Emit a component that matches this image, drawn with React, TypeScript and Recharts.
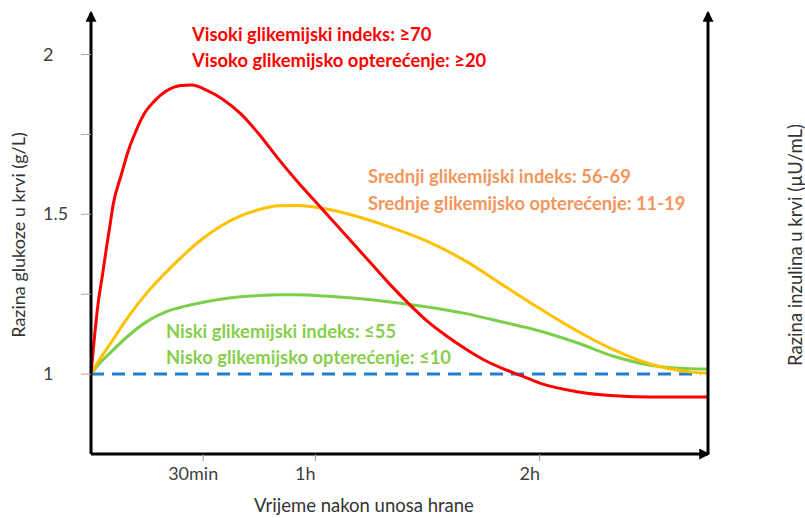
import React from 'react';
import { LineChart, Line, XAxis, YAxis, ReferenceLine } from 'recharts';

// minutes after the meal / blood glucose (g/L)
const highTimes = [0, 1, 2, 3, 4, 5, 6, 8, 10, 12, 14, 17, 20, 24, 27, 31, 35, 40, 45, 50, 55, 60, 65, 70, 75, 80, 85, 90, 95, 100, 105, 110, 115, 120, 130, 140, 150, 165];
const highGI = [1.0, 1.125, 1.23, 1.305, 1.385, 1.46, 1.535, 1.62, 1.7, 1.76, 1.81, 1.855, 1.885, 1.903, 1.905, 1.888, 1.862, 1.815, 1.75, 1.675, 1.605, 1.54, 1.475, 1.41, 1.345, 1.28, 1.22, 1.165, 1.12, 1.08, 1.045, 1.018, 0.995, 0.972, 0.945, 0.932, 0.928, 0.928];

const mediumTimes = [0, 2, 5, 10, 15, 20, 25, 30, 35, 40, 45, 50, 55, 60, 65, 70, 80, 90, 100, 110, 120, 130, 140, 150, 160, 165];
const mediumGI = [1.0, 1.04, 1.092, 1.18, 1.255, 1.318, 1.375, 1.425, 1.465, 1.495, 1.515, 1.527, 1.528, 1.522, 1.512, 1.497, 1.46, 1.415, 1.355, 1.28, 1.205, 1.135, 1.075, 1.03, 1.007, 1.003];

const lowTimes = [0, 2, 5, 10, 15, 20, 25, 30, 35, 40, 45, 50, 55, 60, 70, 80, 90, 100, 110, 120, 130, 140, 150, 160, 165];
const lowGI = [1.0, 1.03, 1.065, 1.12, 1.165, 1.195, 1.212, 1.225, 1.235, 1.242, 1.246, 1.248, 1.248, 1.246, 1.238, 1.226, 1.21, 1.19, 1.163, 1.135, 1.098, 1.055, 1.027, 1.017, 1.016];

const xTicks = [30, 60, 120];
const xTickLabels: Record<number, string> = { 30: '30min', 60: '1h', 120: '2h' };
const glucoseTicks = [1, 1.25, 1.5, 1.75, 2];
const glucoseLabels: Record<number, string> = { 1: '1', 1.5: '1.5', 2: '2' };
const insulinLabels: Record<number, string> = { 1: '10', 1.5: '75', 2: '140' };

const highData = highTimes.map((m, i) => ({ m, v: highGI[i] }));
const mediumData = mediumTimes.map((m, i) => ({ m, v: mediumGI[i] }));
const lowData = lowTimes.map((m, i) => ({ m, v: lowGI[i] }));

const FONT = 'Lato, "Open Sans", sans-serif';

const LeftTick = ({ y, payload }: any) => {
  const label = glucoseLabels[payload.value];
  if (!label) return null;
  return (
    <text x={43} y={y + 6} fontSize={18} fill="#404040" fontFamily={FONT}>{label}</text>
  );
};

const RightTick = ({ y, payload }: any) => {
  const label = insulinLabels[payload.value];
  if (!label) return null;
  return (
    <text x={label === '140' ? 721 : 738} y={y + 6} fontSize={18} fill="#404040" fontFamily={FONT}>{label}</text>
  );
};

const BottomTick = ({ x, y, payload }: any) => (
  <text x={x - 10} y={y + 17} textAnchor="middle" fontSize={18} fill="#404040" fontFamily={FONT}>
    {xTickLabels[payload.value]}
  </text>
);

const note = { fontSize: 18.4, fontWeight: 'bold' as const, fontFamily: FONT };

export default function App() {
  return (
    <div style={{ position: 'absolute', left: 0, top: 0, background: '#fff' }}>
      <LineChart width={805} height={518} margin={{ top: 13, right: 0, bottom: 0, left: 0 }}>
        <defs>
          <marker id="arrow" viewBox="0 0 10 10" refX="8" refY="5" markerWidth="11" markerHeight="11"
            markerUnits="userSpaceOnUse" orient="auto-start-reverse">
            <path d="M0,0 L10,5 L0,10 z" fill="#000" />
          </marker>
        </defs>
        <XAxis
          dataKey="m"
          type="number"
          domain={[0, 165]}
          ticks={xTicks}
          height={64}
          tickSize={7}
          tick={<BottomTick />}
          tickLine={{ stroke: '#999' }}
          axisLine={{ stroke: '#000', strokeWidth: 3, markerEnd: 'url(#arrow)' }}
          allowDuplicatedCategory={false}
        />
        <YAxis
          yAxisId="g"
          domain={[0.75, 2.13]}
          ticks={glucoseTicks}
          width={91}
          tickSize={10}
          tick={<LeftTick />}
          tickLine={{ stroke: '#aaa' }}
          axisLine={{ stroke: '#000', strokeWidth: 3, markerStart: 'url(#arrow)' }}
        />
        <YAxis
          yAxisId="i"
          orientation="right"
          domain={[0.75, 2.13]}
          ticks={glucoseTicks}
          width={97}
          tickSize={10}
          tick={<RightTick />}
          tickLine={{ stroke: '#aaa' }}
          axisLine={{ stroke: '#000', strokeWidth: 3, markerStart: 'url(#arrow)' }}
        />
        <ReferenceLine
          yAxisId="g"
          segment={[{ x: 0, y: 1 }, { x: 163, y: 1 }]}
          stroke="#1f7fd0"
          strokeWidth={3}
          strokeDasharray="13 8"
        />
        <Line yAxisId="g" data={lowData} type="monotone" dataKey="v" stroke="#7ccf48" strokeWidth={3} dot={false} isAnimationActive={false} />
        <Line yAxisId="g" data={mediumData} type="monotone" dataKey="v" stroke="#ffc000" strokeWidth={3} dot={false} isAnimationActive={false} />
        <Line yAxisId="g" data={highData} type="monotone" dataKey="v" stroke="#ff0000" strokeWidth={3} dot={false} isAnimationActive={false} />

        <text x={192} y={41} fill="#ff0000" {...note}>Visoki glikemijski indeks: ≥70</text>
        <text x={192} y={67} fill="#ff0000" {...note}>Visoko glikemijsko opterećenje: ≥20</text>
        <text x={368} y={183} fill="#f4965c" {...note}>Srednji glikemijski indeks: 56-69</text>
        <text x={368} y={210} fill="#f4965c" {...note}>Srednje glikemijsko opterećenje: 11-19</text>
        <text x={166} y={338} fill="#86cf4c" {...note}>Niski glikemijski indeks: ≤55</text>
        <text x={166} y={364} fill="#86cf4c" {...note}>Nisko glikemijsko opterećenje: ≤10</text>

        <text x={18} y={235} transform="rotate(-90 18 235)" textAnchor="middle" dominantBaseline="central" fontSize={18} fill="#333" fontFamily={FONT}>Razina glukoze u krvi (g/L)</text>
        <text x={795} y={245} transform="rotate(-90 795 245)" textAnchor="middle" dominantBaseline="central" fontSize={18.5} fill="#333" fontFamily={FONT}>Razina inzulina u krvi (µU/mL)</text>
        <text x={364} y={512} textAnchor="middle" fontSize={18.5} fill="#333" fontFamily={FONT}>Vrijeme nakon unosa hrane</text>
      </LineChart>
    </div>
  );
}
